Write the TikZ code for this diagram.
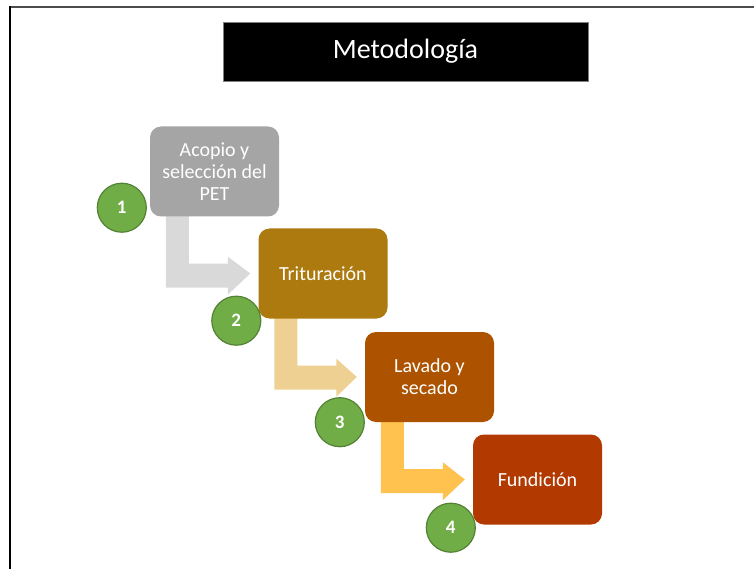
\documentclass[tikz,border=0pt]{standalone}
\usepackage{fontspec}
\setmainfont{Carlito}
\usetikzlibrary{calc}
\pgfdeclarelayer{background}
\pgfsetlayers{background,main}
\definecolor{boxA}{HTML}{A5A5A5}
\definecolor{boxB}{HTML}{AD7A10}
\definecolor{boxC}{HTML}{AD5300}
\definecolor{boxD}{HTML}{B23900}
\definecolor{arrA}{HTML}{D9D9D9}
\definecolor{arrB}{HTML}{EFD093}
\definecolor{arrC}{HTML}{FFC24F}
\definecolor{greenfill}{HTML}{70AD47}
\definecolor{greenline}{HTML}{548235}
\tikzset{
  stepbox/.style={rounded corners=11pt, minimum width=129pt, minimum height=90pt,
    inner sep=0pt, align=center, text=white,
    font=\fontsize{20pt}{22pt}\selectfont},
  numcirc/.style={circle, fill=greenfill, draw=greenline, line width=1.2pt,
    minimum size=49pt, inner sep=0pt, text=white, font=\fontsize{19pt}{21pt}\selectfont\bfseries}
}
\newcommand{\bentarr}[3]{%
  \fill[#3] ($(#1.south west)+(16,-2)$) -- ($(#1.south west)+(39,-2)$)
    -- ($(#1.south west)+(39,47)$) -- ($(#1.south west)+(78,47)$)
    -- ($(#1.south west)+(78,40)$) -- ($(#2.west)+(-8,0)$)
    -- ($(#1.south west)+(78,78)$) -- ($(#1.south west)+(78,71)$)
    -- ($(#1.south west)+(16,71)$) -- cycle;}
\begin{document}
\begin{tikzpicture}[x=1pt,y=-1pt]
\useasboundingbox (0,0) rectangle (754,569);
\draw[line width=2pt, black!70] (9,7.5) -- (754,7.5);
\draw[line width=2pt, black] (10,6.5) -- (10,569);
\node[fill=black, draw=black!50, line width=0.6pt, minimum width=365pt, minimum height=59pt,
  text=white, font=\fontsize{28pt}{30pt}\selectfont] (title) at (405.5,51.5) {Metodología};
\node[stepbox, fill=boxA] (b1) at (214.5,171.5) {Acopio y\\selección del\\PET};
\node[stepbox, fill=boxB] (b2) at (323,273.5) {Trituración};
\node[stepbox, fill=boxC] (b3) at (429.5,377) {Lavado y\\secado};
\node[stepbox, fill=boxD] (b4) at (537.5,479.5) {Fundición};
\begin{pgfonlayer}{background}
\bentarr{b1}{b2}{arrA}
\bentarr{b2}{b3}{arrB}
\bentarr{b3}{b4}{arrC}
\end{pgfonlayer}
\node[numcirc] (c1) at ($(b1.south west)+(-28,-9)$) {1};
\node[numcirc] (c2) at ($(b2.south west)+(-22,2)$) {2};
\node[numcirc] (c3) at ($(b3.south west)+(-25,0)$) {3};
\node[numcirc] (c4) at ($(b4.south west)+(-22,3)$) {4};
\end{tikzpicture}
\end{document}
